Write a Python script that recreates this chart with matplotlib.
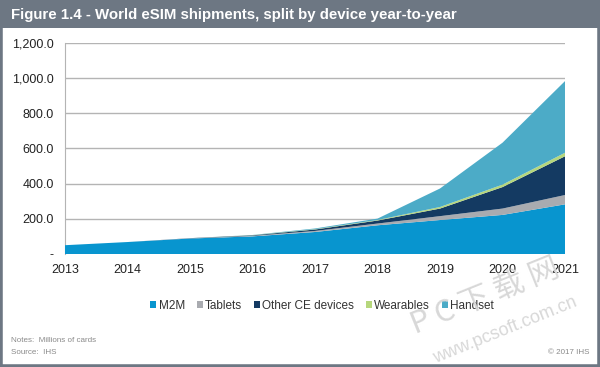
import matplotlib
matplotlib.use("Agg")
from matplotlib import pyplot as plt
from matplotlib.patches import Rectangle
from matplotlib.ticker import FuncFormatter

plt.rcParams["font.family"] = ["Liberation Sans", "DejaVu Sans"]

# data (millions of cards)
years = [2013, 2014, 2015, 2016, 2017, 2018, 2019, 2020, 2021]
m2m = [50, 68, 88, 100, 125, 163, 193, 222, 282]
tablets = [0, 0, 1, 3, 6, 10, 22, 36, 53]
other_ce = [0, 0, 1, 3, 8, 17, 43, 122, 220]
wearables = [0, 0, 0, 1, 2, 3, 9, 14, 20]
handset = [0, 0, 0, 1, 4, 8, 105, 238, 407]
series_names = ["M2M", "Tablets", "Other CE devices", "Wearables", "Handset"]
y_ticks = [0, 200, 400, 600, 800, 1000, 1200]

colors = ["#0895cf", "#a9abb0", "#143a62", "#b6d77c", "#4cabc7"]
frame_grey = "#6d7783"

fig = plt.figure(figsize=(6.0, 3.67), dpi=100)
fig.patch.set_facecolor("white")

# outer frame and title band
fig.patches.append(Rectangle((0, 0), 1, 1, transform=fig.transFigure,
                             facecolor="none", edgecolor=frame_grey, linewidth=4, zorder=0))
fig.patches.append(Rectangle((0, 1 - 28 / 367), 1, 28 / 367, transform=fig.transFigure,
                             facecolor=frame_grey, edgecolor="none", zorder=1))
fig.text(11 / 600, 1 - 15 / 367, "Figure 1.4 - World eSIM shipments, split by device year-to-year",
         color="white", fontsize=10.8, fontweight="bold", va="center", ha="left")

ax = fig.add_axes([65 / 600, 1 - 254 / 367, 500 / 600, (254 - 42.7) / 367])
polys = ax.stackplot(years, m2m, tablets, other_ce, wearables, handset,
                     colors=colors, labels=series_names, linewidth=0, zorder=3)

ax.set_xlim(years[0], years[-1])
ax.set_ylim(0, 1200)
ax.set_yticks(y_ticks)
ax.yaxis.set_major_formatter(FuncFormatter(lambda v, p: "-" if v == 0 else f"{v:,.1f}"))
ax.set_xticks(years)
ax.grid(axis="y", color="#b4b4b4", linewidth=1, zorder=0)
ax.set_axisbelow(True)
for side in ["top", "right", "bottom"]:
    ax.spines[side].set_visible(False)
ax.spines["left"].set_color("#b4b4b4")
ax.tick_params(axis="both", length=0, labelsize=9, colors="#222222")
ax.tick_params(axis="x", pad=7)
ax.tick_params(axis="y", pad=8)

leg = fig.legend(handles=polys, labels=series_names, loc="center", bbox_to_anchor=(322 / 600, 1 - 306 / 367),
                 ncol=5, frameon=False, fontsize=8.5, handlelength=0.5, handleheight=0.5,
                 handletextpad=0.2, columnspacing=1.0)
for t in leg.get_texts():
    t.set_color("#333333")

fig.text(11 / 600, 1 - 340 / 367, "Notes:  Millions of cards", fontsize=5.8, color="#8a8a8a", va="center")
fig.text(11 / 600, 1 - 352 / 367, "Source:  IHS", fontsize=5.8, color="#8a8a8a", va="center")
fig.text(589 / 600, 1 - 352 / 367, "\u00a9 2017 IHS", fontsize=5.8, color="#8a8a8a", va="center", ha="right")

# watermark
fig.text(485 / 600, 1 - 297 / 367, "P C 下 载 网", fontsize=22, color="#d8d8d8", rotation=22,
         ha="center", va="center", family=["Noto Sans CJK SC", "DejaVu Sans"], zorder=10)
fig.text(505 / 600, 1 - 330 / 367, "www.pcsoft.com.cn", fontsize=13, color="#d8d8d8", rotation=22,
         ha="center", va="center", zorder=10)

fig.savefig("out.png", dpi=100)
